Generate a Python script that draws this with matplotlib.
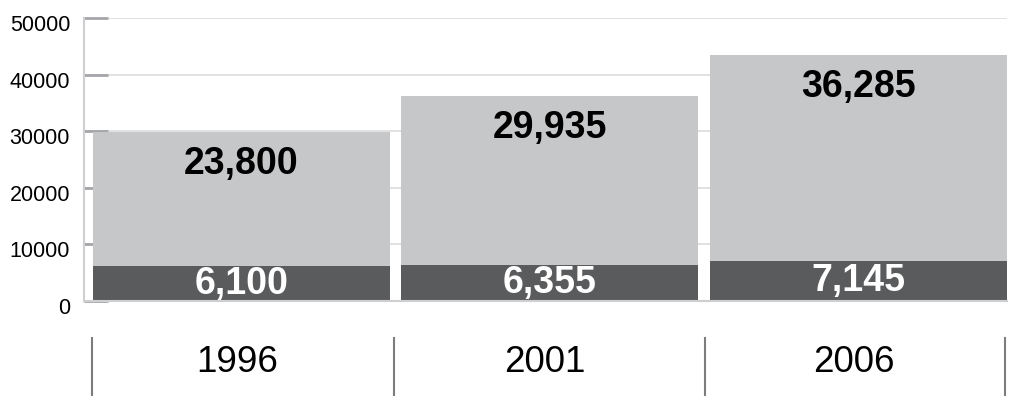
import matplotlib.pyplot as plt
import matplotlib.transforms as mtransforms

plt.rcParams['font.family'] = ['Liberation Sans', 'DejaVu Sans']

years = ['1996', '2001', '2006']
bottom_vals = [6100, 6355, 7145]
top_vals = [23800, 29935, 36285]

light = '#c6c7c9'
dark = '#5a5b5d'

fig = plt.figure(figsize=(10.14, 4.05), dpi=100)
ax = fig.add_axes([0.0828, 0.2568, 0.9102, 0.6988])

x = list(range(len(years)))
ax.bar(x, bottom_vals, width=0.962, color=dark, zorder=2)
ax.bar(x, top_vals, width=0.962, bottom=bottom_vals, color=light, zorder=2)

for i in x:
    b, t = bottom_vals[i], top_vals[i]
    ax.text(i, b / 2, f'{b:,}', ha='center', va='center', color='white',
            fontsize=27, fontweight='bold', zorder=3)
    ax.annotate(f'{t:,}', (i, b + t), xytext=(0, -32), textcoords='offset pixels',
                ha='center', va='center', color='black', fontsize=27,
                fontweight='bold', zorder=3)

ax.set_xlim(-0.510, 2.481)
ax.set_ylim(0, 50000)
ax.set_yticks(range(0, 50001, 10000))
ax.yaxis.grid(True, color='#dcdcdc', linewidth=1.2, zorder=0)
ax.set_axisbelow(True)
ax.tick_params(axis='y', direction='in', length=17, width=2, color='#a5a5aa',
               labelsize=15.5, pad=10)
ax.tick_params(axis='x', length=0, labelbottom=False)
offset = mtransforms.ScaledTranslation(0, -5 / 100, fig.dpi_scale_trans)
for lab in ax.get_yticklabels():
    lab.set_transform(lab.get_transform() + offset)

for s in ['top', 'right']:
    ax.spines[s].set_visible(False)
for s in ['left', 'bottom']:
    ax.spines[s].set_color('#cfcfd2')
    ax.spines[s].set_linewidth(1.5)

# category row below the plot
trans = mtransforms.blended_transform_factory(ax.transData, ax.transAxes)
for edge in [-0.485, 0.494, 1.501, 2.476]:
    ax.plot([edge, edge], [-0.131, -0.332], transform=trans, color='#7d7d7d',
            linewidth=1.5, clip_on=False)
for i, yr in enumerate(years):
    ax.text(i - 0.015, -0.216, yr, transform=trans, ha='center', va='center',
            fontsize=26.5, color='black')

fig.savefig('out.png', dpi=100)
